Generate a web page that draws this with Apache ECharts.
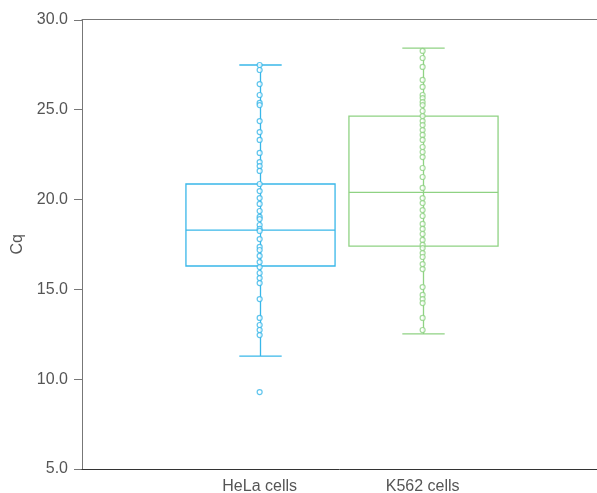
<!DOCTYPE html>
<html>
<head>
<meta charset="utf-8">
<script src="https://cdn.jsdelivr.net/npm/echarts@6/dist/echarts.min.js"></script>
<style>
  html, body { margin: 0; padding: 0; background: #fff; }
  #chart { width: 597px; height: 493px; }
</style>
</head>
<body>
<div id="chart"></div>
<script>
// categorias y valores
var categories = ['HeLa cells', 'K562 cells'];

var helaValues = [27.47, 27.19, 26.41, 25.80, 25.36, 25.24, 24.35, 23.74, 23.30, 22.58,
  22.07, 21.85, 21.58, 20.85, 20.46, 20.07, 19.74, 19.35, 19.02, 18.90,
  18.57, 18.35, 18.24, 17.79, 17.35, 17.18, 16.85, 16.51, 16.23, 15.90,
  15.62, 15.34, 14.45, 13.40, 13.01, 12.73, 12.45, 9.28];

var k562Values = [28.25, 27.86, 27.36, 26.64, 26.25, 25.80, 25.63, 25.41, 25.24, 24.91,
  24.63, 24.35, 24.13, 23.85, 23.58, 23.30, 22.91, 22.63, 22.35, 21.74,
  21.24, 20.63, 20.07, 19.79, 19.40, 19.07, 18.63, 18.35, 18.07, 17.74,
  17.46, 17.29, 17.01, 16.79, 16.40, 16.12, 15.12, 14.68, 14.45, 14.23,
  13.40, 12.73];

// [min, Q1, mediana, Q3, max]
var helaBox = [11.28, 16.29, 18.29, 20.85, 27.47];
var k562Box = [12.51, 17.40, 20.38, 24.63, 28.41];

// marcas del eje Y
var yTicks = [5, 10, 15, 20, 25, 30];

var colors = ['#38b7e9', '#8fd283'];
var fontFamily = 'Liberation Sans, Arial, sans-serif';

var chart = echarts.init(document.getElementById('chart'));

var boxData = [
  [1].concat(helaBox),
  [2].concat(k562Box)
];

function renderBox(params, api) {
  var x = api.value(0);
  var low = api.coord([x, api.value(1)]);
  var q1 = api.coord([x, api.value(2)]);
  var med = api.coord([x, api.value(3)]);
  var q3 = api.coord([x, api.value(4)]);
  var high = api.coord([x, api.value(5)]);
  var half = api.size([0.915, 0])[0] / 2;
  var cap = api.size([0.26, 0])[0] / 2;
  var c = colors[params.dataIndex];
  var st = { stroke: c, lineWidth: 1.3, fill: null };
  var cx = Math.round(low[0]) + 0.5;
  return {
    type: 'group',
    children: [
      { type: 'line', shape: { x1: cx, y1: high[1], x2: cx, y2: low[1] }, style: st },
      { type: 'line', shape: { x1: cx - cap, y1: high[1], x2: cx + cap, y2: high[1] }, style: st },
      { type: 'line', shape: { x1: cx - cap, y1: low[1], x2: cx + cap, y2: low[1] }, style: st },
      { type: 'rect', shape: { x: cx - half, y: q3[1], width: half * 2, height: q1[1] - q3[1] }, style: { stroke: c, lineWidth: 1.3, fill: '#fff' } },
      { type: 'line', shape: { x1: cx - half, y1: med[1], x2: cx + half, y2: med[1] }, style: st },
      { type: 'line', shape: { x1: cx, y1: q3[1], x2: cx, y2: q1[1] }, style: st }
    ]
  };
}

// marcas del eje Y dibujadas a mano (fuera del area)
function renderTick(params, api) {
  var left = params.coordSys.x;
  var y = Math.round(api.coord([1, api.value(0)])[1]) + 0.5;
  return {
    type: 'line',
    shape: { x1: left - 8, y1: y, x2: left, y2: y },
    style: { stroke: '#777', lineWidth: 1 }
  };
}

var option = {
  animation: false,
  grid: { left: 82, right: 0, top: 19.5, bottom: 24, outerBoundsMode: 'none', containLabel: false },
  xAxis: [
    {
      type: 'value',
      min: -0.09,
      max: 3.07,
      splitLine: { show: false },
      axisLine: { onZero: false, lineStyle: { color: '#333', width: 1 } },
      axisTick: { show: false },
      axisLabel: {
        customValues: [1, 2],
        margin: 10,
        color: '#555',
        fontSize: 16,
        fontFamily: fontFamily,
        formatter: function (v) { return categories[Math.round(v) - 1] || ''; }
      }
    },
    {
      type: 'value',
      position: 'top',
      min: -0.09,
      max: 3.07,
      splitLine: { show: false },
      axisLine: { show: true, onZero: false, lineStyle: { color: '#777', width: 1 } },
      axisTick: { show: false },
      axisLabel: { show: false }
    }
  ],
  yAxis: {
    type: 'value',
    min: 5,
    max: 30,
    interval: 5,
    name: 'Cq',
    nameLocation: 'middle',
    nameGap: 55,
    nameTextStyle: { color: '#555', fontSize: 16, fontFamily: fontFamily },
    splitLine: { show: false },
    axisLine: { show: true, onZero: false, lineStyle: { color: '#777', width: 1 } },
    axisTick: { show: false },
    axisLabel: {
      margin: 14,
      color: '#555',
      fontSize: 16,
      fontFamily: fontFamily,
      formatter: function (v) { return v.toFixed(1); }
    }
  },
  series: [
    {
      type: 'custom',
      renderItem: renderTick,
      encode: { y: 0 },
      data: yTicks.map(function (v) { return [v]; }),
      clip: false,
      silent: true,
      z: 0
    },
    {
      type: 'custom',
      renderItem: renderBox,
      encode: { x: 0, y: [1, 2, 3, 4, 5] },
      data: boxData,
      z: 1
    },
    {
      name: categories[0],
      type: 'scatter',
      symbol: 'circle',
      symbolSize: 5,
      itemStyle: { color: '#fff', borderColor: colors[0], borderWidth: 1.2 },
      data: helaValues.map(function (v) { return [1, v]; }),
      z: 3
    },
    {
      name: categories[1],
      type: 'scatter',
      symbol: 'circle',
      symbolSize: 5,
      itemStyle: { color: '#fff', borderColor: colors[1], borderWidth: 1.2 },
      data: k562Values.map(function (v) { return [2, v]; }),
      z: 3
    }
  ]
};

chart.setOption(option);
</script>
</body>
</html>
